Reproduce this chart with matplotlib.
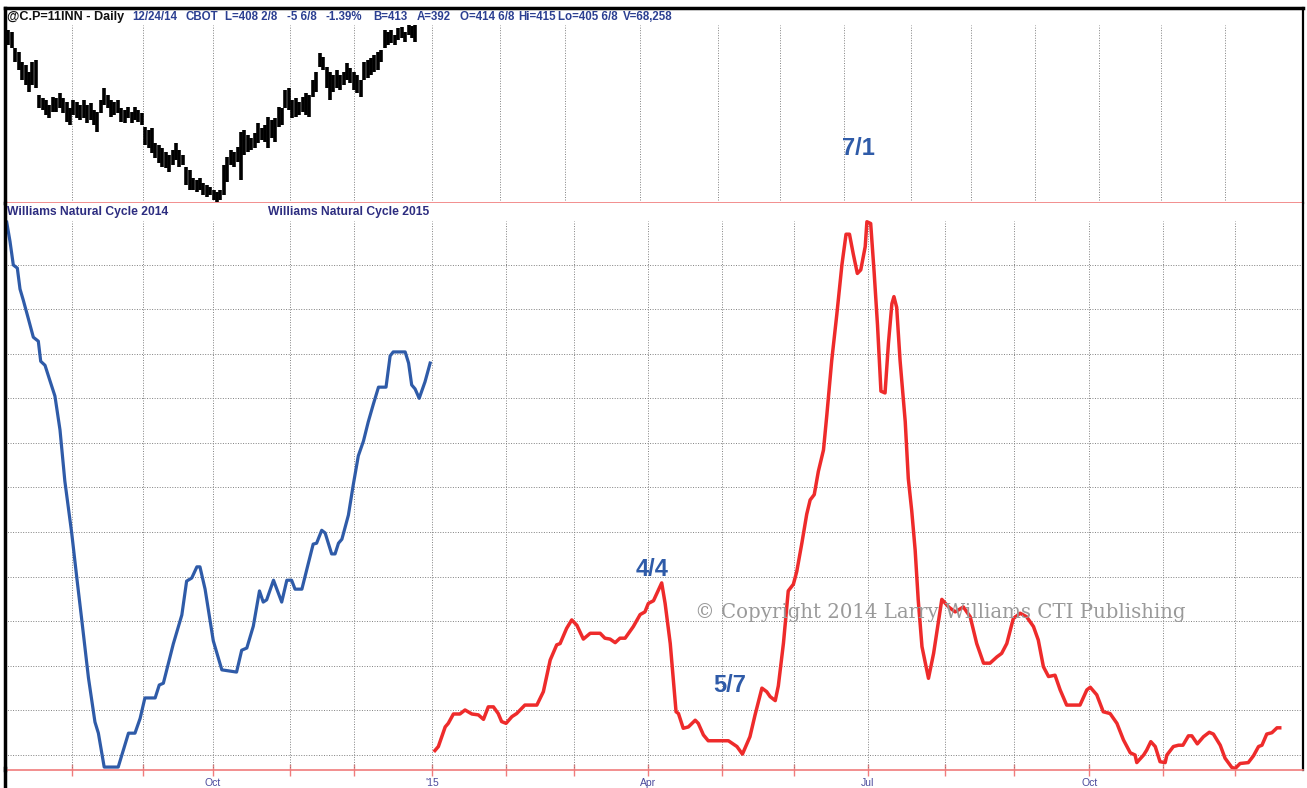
import matplotlib
matplotlib.use("Agg")
import matplotlib.pyplot as plt
from matplotlib.lines import Line2D

# x axis is in trading-day units counted from the left edge of the chart

# month grid / tick positions (bottom panel)
month_pos = [19.6, 40.4, 60.8, 83.3, 102.0, 124.9, 146.5, 166.4, 188.0,
             209.6, 230.7, 252.3, 274.9, 295.0, 317.0, 338.6, 359.6]
month_labels = ['', '', 'Oct', '', '', "'15", '', '', 'Apr',
                '', '', 'Jul', '', '', 'Oct', '', '']
# month grid of the price panel (its own calendar)
price_month_pos = [19.6, 40.4, 60.8, 83.3, 102.0, 124.9, 144.7, 163.7, 185.7,
                   208.5, 226.6, 245.3, 264.9, 282.5, 301.2, 319.9, 338.0, 356.7]
cycle_levels = [10, 20, 30, 40, 50, 60, 70, 80, 90, 100, 110, 120]

# daily corn bars (high / low), Jul - Dec 2014
bar_high = [412.3, 411.2, 402.4, 400.2, 394.8, 393.1, 389.3, 394.8, 395.9, 376.7,
            375.1, 374.0, 371.3, 375.6, 375.1, 377.8, 375.1, 372.9, 369.6, 374.0,
            372.9, 371.3, 374.0, 371.3, 372.4, 368.5, 367.4, 374.0, 380.6, 376.7,
            374.0, 372.9, 374.0, 369.6, 368.5, 370.2, 367.4, 370.2, 368.5, 366.9,
            359.2, 357.6, 358.7, 350.5, 349.4, 347.8, 345.6, 344.0, 346.7, 350.5,
            346.7, 344.0, 337.4, 335.7, 331.4, 330.3, 331.4, 328.6, 327.5, 326.4,
            324.8, 323.7, 324.8, 338.5, 342.8, 346.7, 345.6, 348.3, 356.5, 357.6,
            354.9, 353.2, 356.0, 361.4, 358.7, 360.3, 364.7, 363.1, 364.2, 370.2,
            369.6, 379.5, 380.6, 374.0, 375.1, 372.9, 375.6, 377.8, 376.7, 384.9,
            389.3, 399.7, 397.5, 392.0, 389.3, 387.7, 390.4, 387.7, 389.3, 394.2,
            391.5, 389.3, 387.7, 384.9, 394.8, 395.9, 397.0, 398.6, 400.2, 401.3,
            412.3, 411.2, 412.3, 409.5, 413.4, 413.9, 411.2, 415.0, 414.2, 415.0]
bar_low = [404.1, 402.4, 394.8, 390.4, 384.9, 382.2, 378.4, 382.2, 380.6, 369.6,
           368.5, 365.8, 364.2, 367.4, 367.4, 369.6, 366.9, 362.0, 360.3, 365.8,
           364.2, 363.1, 364.2, 361.4, 363.1, 360.3, 356.5, 366.9, 371.3, 369.6,
           364.7, 365.8, 366.9, 362.0, 361.4, 364.2, 361.4, 363.1, 362.0, 360.3,
           349.4, 347.8, 345.0, 342.3, 339.6, 337.4, 336.8, 334.6, 338.5, 341.2,
           337.4, 338.5, 327.5, 324.8, 324.8, 323.7, 324.8, 322.1, 321.0, 322.1,
           319.3, 318.2, 319.3, 322.1, 329.2, 338.5, 337.4, 340.1, 330.3, 344.0,
           345.6, 346.7, 347.8, 350.5, 352.1, 351.0, 347.8, 353.2, 351.0, 359.2,
           360.3, 369.6, 368.5, 364.2, 364.7, 365.8, 367.4, 365.8, 364.7, 375.6,
           378.4, 392.0, 390.4, 380.6, 374.0, 378.4, 380.6, 379.5, 382.2, 384.9,
           383.3, 379.5, 377.8, 375.6, 384.9, 386.0, 387.7, 389.3, 390.4, 394.8,
           402.4, 404.1, 405.2, 404.1, 406.8, 407.9, 405.7, 409.5, 408.0, 405.8]

# Williams Natural Cycle 2014
c14_x = [0.5, 1.46, 2.43, 3.6, 4.39, 5.35, 6.81, 8.28, 9.74, 10.44, 11.7, 13.16, 14.6,
         16.08, 17.5, 19.5, 21.0, 22.4, 24.4, 26.3, 27.3, 29.0, 33.1, 36.1, 38.0, 39.5,
         40.9, 43.9, 45.1, 46.3, 49.2, 51.7, 53.1, 54.6, 56.1, 57.0, 58.5, 60.9, 63.4,
         67.7, 69.2, 70.7, 72.6, 74.4, 75.5, 76.5, 78.5, 80.9, 82.4, 83.8, 84.8, 86.8,
         88.2, 90.1, 91.1, 92.6, 93.6, 95.5, 96.5, 97.5, 98.5, 100.4, 101.8, 103.3,
         104.8, 106.2, 107.7, 109.2, 111.4, 112.6, 113.5, 117.0, 118.0, 118.9, 119.9,
         121.1, 122.8, 124.3]
c14_y = [129.5, 125.2, 119.9, 119.2, 114.5, 112.0, 107.9, 103.7, 102.8, 98.3, 97.4, 93.9,
         90.5, 82.9, 71.4, 59.8, 49.7, 40.6, 27.3, 17.4, 14.9, 7.3, 7.3, 14.9, 14.9, 18.2,
         22.8, 22.8, 25.7, 26.1, 34.9, 41.4, 49.0, 49.7, 52.2, 52.2, 47.2, 35.6, 29.1,
         28.6, 33.5, 34.0, 38.9, 46.8, 44.3, 44.8, 49.2, 44.3, 49.2, 49.2, 47.2, 47.2,
         51.5, 57.3, 57.5, 60.4, 59.8, 55.1, 55.1, 57.5, 58.4, 63.8, 70.5, 77.1, 80.4,
         84.7, 88.7, 92.5, 92.5, 99.5, 100.4, 100.4, 97.9, 93.0, 92.1, 90.0, 93.7, 97.9]

# Williams Natural Cycle 2015
c15_x = [125.7, 126.7, 128.7, 129.6, 131.1, 133.0, 134.5, 136.5, 138.4, 139.9, 141.3,
         142.8, 144.2, 145.2, 146.5, 148.2, 149.6, 152.0, 155.5, 157.4, 159.4, 161.3,
         162.3, 164.2, 165.7, 167.2, 169.1, 171.1, 174.0, 175.4, 176.9, 178.4, 179.8,
         181.3, 183.7, 185.7, 187.1, 188.1, 189.6, 192.0, 193.0, 194.5, 196.2, 196.9,
         198.3, 199.8, 201.8, 202.7, 204.2, 205.6, 211.5, 214.0, 215.6, 217.8, 219.3,
         221.3, 222.7, 223.7, 225.2, 226.1, 227.6, 229.0, 230.5, 231.5, 233.0, 234.4,
         235.4, 236.6, 237.8, 239.3, 240.3, 241.7, 243.2, 244.7, 245.9, 246.9, 248.0,
         249.2, 250.2, 251.5, 252.0, 253.1, 254.1, 255.1, 256.1, 257.3, 258.3, 259.3,
         259.9, 260.7, 261.7, 263.2, 264.1, 265.1, 266.1, 267.0, 268.1, 270.0, 271.5,
         273.9, 275.9, 277.8, 280.2, 282.2, 284.1, 286.1, 288.0, 290.0, 291.4, 292.9,
         294.8, 296.8, 298.7, 300.7, 302.1, 303.6, 305.1, 307.0, 308.5, 310.4, 314.3,
         316.3, 317.3, 319.2, 321.1, 323.1, 325.1, 327.0, 329.0, 330.4, 330.9, 332.9,
         333.8, 335.0, 336.3, 337.7, 339.2, 339.7, 341.6, 343.1, 344.4, 346.0, 347.0,
         348.6, 350.4, 352.1, 353.3, 355.3, 356.7, 358.7, 359.7, 361.1, 363.5, 365.0,
         366.5, 367.5, 368.9, 370.4, 371.9, 372.7]
c15_y = [11.0, 11.9, 16.3, 17.1, 19.2, 19.2, 20.1, 19.2, 19.0, 18.0, 20.8, 20.8, 19.3,
         17.5, 17.1, 18.6, 19.3, 21.2, 21.2, 24.2, 31.3, 34.7, 35.0, 38.4, 40.3, 39.1,
         36.0, 37.3, 37.3, 36.2, 36.0, 35.2, 36.2, 36.2, 38.8, 41.5, 42.1, 44.0, 44.6,
         48.6, 44.0, 35.0, 19.7, 19.3, 16.0, 16.3, 17.8, 17.1, 14.5, 13.2, 13.2, 11.9,
         10.2, 14.1, 19.0, 25.0, 24.2, 23.1, 22.2, 25.5, 35.1, 46.8, 48.3, 51.2, 57.6,
         64.0, 67.2, 68.4, 73.6, 78.4, 86.4, 98.4, 108.8, 120.0, 126.8, 126.8, 122.4,
         118.0, 118.8, 124.0, 129.6, 129.2, 118.4, 106.4, 91.6, 91.2, 102.4, 111.2, 112.8,
         110.4, 98.4, 84.8, 72.0, 64.8, 56.0, 44.8, 34.3, 27.2, 32.8, 44.9, 43.2, 42.1,
         43.2, 41.0, 35.0, 30.6, 30.6, 32.0, 32.8, 35.0, 40.6, 41.8, 41.0, 38.8, 35.8,
         29.8, 27.6, 27.9, 24.6, 21.2, 21.2, 24.6, 25.2, 23.5, 19.7, 19.3, 17.1, 13.4,
         10.5, 10.0, 8.3, 10.0, 11.1, 13.0, 11.9, 8.5, 8.3, 10.0, 11.9, 12.2, 12.2, 14.3,
         14.3, 12.5, 14.1, 15.1, 14.7, 12.2, 9.3, 7.2, 7.0, 8.1, 8.3, 9.8, 11.9, 12.2,
         14.7, 15.0, 16.1, 16.1]

header = [("@C.P=11INN - Daily", 7, '#111111'), ("12/24/14", 132, '#2b3f91'),
          ("CBOT", 185, '#2b3f91'), ("L=408 2/8", 225, '#2b3f91'),
          ("-5 6/8", 287, '#2b3f91'), ("-1.39%", 326, '#2b3f91'),
          ("B=413", 373, '#2b3f91'), ("A=392", 417, '#2b3f91'),
          ("O=414 6/8", 460, '#2b3f91'), ("Hi=415", 518, '#2b3f91'),
          ("Lo=405 6/8", 558, '#2b3f91'), ("V=68,258", 623, '#2b3f91')]

W, H = 1307, 788
RED_RULE = '#f07c7c'
GRID = dict(color='#808080', lw=0.7, ls=(0, (1, 1.6)))
SANS = ['Liberation Sans', 'DejaVu Sans']

fig = plt.figure(figsize=(W / 100, H / 100), dpi=100)
ax1 = fig.add_axes([5 / W, 1 - 203 / H, 1298 / W, 195 / H])
ax2 = fig.add_axes([5 / W, 18 / H, 1298 / W, 567 / H])

# price panel
for p in price_month_pos:
    ax1.axvline(p, ymin=0.015, ymax=0.913, **GRID)
bar_x = [i + 1 for i in range(len(bar_high))]
ax1.vlines(bar_x, bar_low, bar_high, color='black', lw=2.6)
ax1.set_xlim(0, 379.5)
ax1.set_ylim(317.7, 424.3)
ax1.set_xticks([])
ax1.set_yticks([])

# cycle panel
for m in month_pos:
    ax2.axvline(m, ymin=0, ymax=0.968, **GRID)
for lv in cycle_levels:
    ax2.axhline(lv, **GRID)
ax2.plot(c14_x, c14_y, color='#2f5ba8', lw=2.3, solid_joinstyle='round')
ax2.plot(c15_x, c15_y, color='#ee2b2b', lw=2.5, solid_joinstyle='round')
ax2.set_xlim(0, 379.5)
ax2.set_ylim(6.64, 133.8)
ax2.set_yticks([])
ax2.set_xticks(month_pos)
ax2.set_xticklabels(month_labels, family=SANS, fontsize=7.5, color='#4a4a9c')
ax2.tick_params(axis='x', direction='inout', length=8, width=1, color=RED_RULE, pad=2)

for ax in (ax1, ax2):
    ax.spines['left'].set_color('black')
    ax.spines['left'].set_linewidth(2.5)
    ax.spines['right'].set_color('black')
    ax.spines['right'].set_linewidth(1.6)
    ax.spines['bottom'].set_color(RED_RULE)
    ax.spines['bottom'].set_linewidth(1.2)
ax1.spines['top'].set_color('black')
ax1.spines['top'].set_linewidth(2.5)
ax2.spines['top'].set_visible(False)

# frame running below the chart
fig.add_artist(Line2D([5 / W, 5 / W], [0, 20 / H], transform=fig.transFigure,
                      color='black', lw=2.5))

# header line
for k, (txt, xp, col) in enumerate(header):
    fig.text(xp / W, 1 - 17 / H, txt, color=col, fontsize=9.1 if k == 0 else 8.3,
             fontweight='bold', family=SANS, va='center', ha='left')

fig.text(7 / W, 1 - 212 / H, "Williams Natural Cycle 2014", color='#2d2d80',
         fontsize=8.7, fontweight='bold', family=SANS, va='center')
fig.text(268 / W, 1 - 212 / H, "Williams Natural Cycle 2015", color='#2d2d80',
         fontsize=8.7, fontweight='bold', family=SANS, va='center')

# turning-point dates
for lab, xv, yv in [("7/1", 249.4, 146.1), ("4/4", 189.2, 51.5), ("5/7", 212.0, 25.7)]:
    ax2.text(xv, yv, lab, color='#2f5ba8', fontsize=17, fontweight='bold',
             family=SANS, ha='center', va='center', clip_on=False)

fig.text(695 / W, 1 - 612 / H, "\u00a9 Copyright 2014 Larry Williams CTI Publishing",
         color='#9a9a9a', fontsize=14.2, family=['DejaVu Serif'], va='center', ha='left')

fig.savefig('out.png', dpi=100)
